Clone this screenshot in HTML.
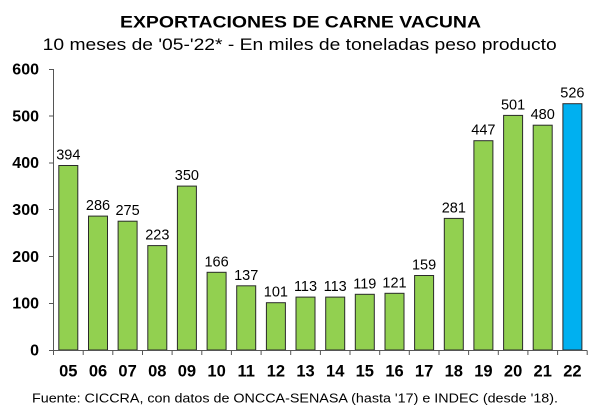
<!DOCTYPE html>
<html>
<head>
<meta charset="utf-8">
<style>
html,body{margin:0;padding:0;background:#fff;}
svg{display:block;}
text{font-family:"Liberation Sans",Arial,sans-serif;fill:#000;}
</style>
</head>
<body>
<svg width="601" height="415" viewBox="0 0 601 415" xmlns="http://www.w3.org/2000/svg">
<rect x="0" y="0" width="601" height="415" fill="#fff"/>
<!-- Titles -->
<text x="120" y="27.7" font-size="17" font-weight="bold" textLength="361" lengthAdjust="spacingAndGlyphs">EXPORTACIONES DE CARNE VACUNA</text>
<text x="42.7" y="50" font-size="16.5" textLength="514" lengthAdjust="spacingAndGlyphs">10 meses de '05-'22* - En miles de toneladas peso producto</text>

<!-- Y axis labels -->
<g font-size="16" font-weight="bold" text-anchor="end">
<text x="39" y="355.5">0</text>
<text x="39" y="308.7">100</text>
<text x="39" y="261.8">200</text>
<text x="39" y="215">300</text>
<text x="39" y="168.2">400</text>
<text x="39" y="121.3">500</text>
<text x="39" y="74.5">600</text>
</g>

<!-- Bars -->
<g stroke="#2a2a2a" stroke-width="1" fill="#92D050">
<rect x="58.8" y="165.5" width="19" height="184.5"/>
<rect x="88.5" y="216.1" width="19" height="133.9"/>
<rect x="118.1" y="221.2" width="19" height="128.8"/>
<rect x="147.8" y="245.6" width="19" height="104.4"/>
<rect x="177.4" y="186.1" width="19" height="163.9"/>
<rect x="207.1" y="272.3" width="19" height="77.7"/>
<rect x="236.7" y="285.8" width="19" height="64.2"/>
<rect x="266.4" y="302.7" width="19" height="47.3"/>
<rect x="296" y="297.1" width="19" height="52.9"/>
<rect x="325.7" y="297.1" width="19" height="52.9"/>
<rect x="355.3" y="294.3" width="19" height="55.7"/>
<rect x="385" y="293.3" width="19" height="56.7"/>
<rect x="414.6" y="275.5" width="19" height="74.5"/>
<rect x="444.3" y="218.4" width="19" height="131.6"/>
<rect x="473.9" y="140.7" width="19" height="209.3"/>
<rect x="503.6" y="115.4" width="19" height="234.6"/>
<rect x="533.2" y="125.2" width="19" height="224.8"/>
<rect x="562.9" y="103.7" width="19" height="246.3" fill="#00B0F0"/>
</g>

<!-- Data labels -->
<g font-size="14.5" text-anchor="middle">
<text x="68.3" y="159.5">394</text>
<text x="98" y="210.1">286</text>
<text x="127.6" y="215.2">275</text>
<text x="157.3" y="239.6">223</text>
<text x="186.9" y="180.1">350</text>
<text x="216.6" y="266.3">166</text>
<text x="246.2" y="279.8">137</text>
<text x="275.9" y="296.7">101</text>
<text x="305.5" y="291.1">113</text>
<text x="335.2" y="291.1">113</text>
<text x="364.8" y="288.3">119</text>
<text x="394.5" y="287.3">121</text>
<text x="424.1" y="269.5">159</text>
<text x="453.8" y="212.4">281</text>
<text x="483.4" y="134.7">447</text>
<text x="513.1" y="109.4">501</text>
<text x="542.7" y="119.2">480</text>
<text x="572.4" y="97.7">526</text>
</g>

<!-- Axes -->
<g stroke="#555" stroke-width="1" fill="none">
<line x1="53.5" y1="69" x2="53.5" y2="350.5"/>
<line x1="53.5" y1="350.5" x2="587.2" y2="350.5"/>
<!-- y ticks -->
<line x1="49" y1="69.5" x2="53.5" y2="69.5"/>
<line x1="49" y1="116" x2="53.5" y2="116"/>
<line x1="49" y1="163" x2="53.5" y2="163"/>
<line x1="49" y1="209.5" x2="53.5" y2="209.5"/>
<line x1="49" y1="256.5" x2="53.5" y2="256.5"/>
<line x1="49" y1="303.5" x2="53.5" y2="303.5"/>
<line x1="49" y1="350.5" x2="53.5" y2="350.5"/>
<!-- x ticks -->
<line x1="53.5" y1="350.5" x2="53.5" y2="355"/>
<line x1="83.2" y1="350.5" x2="83.2" y2="355"/>
<line x1="112.8" y1="350.5" x2="112.8" y2="355"/>
<line x1="142.5" y1="350.5" x2="142.5" y2="355"/>
<line x1="172.1" y1="350.5" x2="172.1" y2="355"/>
<line x1="201.8" y1="350.5" x2="201.8" y2="355"/>
<line x1="231.4" y1="350.5" x2="231.4" y2="355"/>
<line x1="261.1" y1="350.5" x2="261.1" y2="355"/>
<line x1="290.7" y1="350.5" x2="290.7" y2="355"/>
<line x1="320.4" y1="350.5" x2="320.4" y2="355"/>
<line x1="350" y1="350.5" x2="350" y2="355"/>
<line x1="379.7" y1="350.5" x2="379.7" y2="355"/>
<line x1="409.3" y1="350.5" x2="409.3" y2="355"/>
<line x1="439" y1="350.5" x2="439" y2="355"/>
<line x1="468.6" y1="350.5" x2="468.6" y2="355"/>
<line x1="498.3" y1="350.5" x2="498.3" y2="355"/>
<line x1="527.9" y1="350.5" x2="527.9" y2="355"/>
<line x1="557.6" y1="350.5" x2="557.6" y2="355"/>
<line x1="587.2" y1="350.5" x2="587.2" y2="355"/>
</g>

<!-- X labels -->
<g font-size="16.5" font-weight="bold" text-anchor="middle">
<text x="68.3" y="376.7">05</text>
<text x="98" y="376.7">06</text>
<text x="127.6" y="376.7">07</text>
<text x="157.3" y="376.7">08</text>
<text x="186.9" y="376.7">09</text>
<text x="216.6" y="376.7">10</text>
<text x="246.2" y="376.7">11</text>
<text x="275.9" y="376.7">12</text>
<text x="305.5" y="376.7">13</text>
<text x="335.2" y="376.7">14</text>
<text x="364.8" y="376.7">15</text>
<text x="394.5" y="376.7">16</text>
<text x="424.1" y="376.7">17</text>
<text x="453.8" y="376.7">18</text>
<text x="483.4" y="376.7">19</text>
<text x="513.1" y="376.7">20</text>
<text x="542.7" y="376.7">21</text>
<text x="572.4" y="376.7">22</text>
</g>

<!-- Footer -->
<text x="32" y="402.7" font-size="13" textLength="526" lengthAdjust="spacingAndGlyphs">Fuente: CICCRA, con datos de ONCCA-SENASA (hasta '17) e INDEC (desde '18).</text>
</svg>
</body>
</html>
